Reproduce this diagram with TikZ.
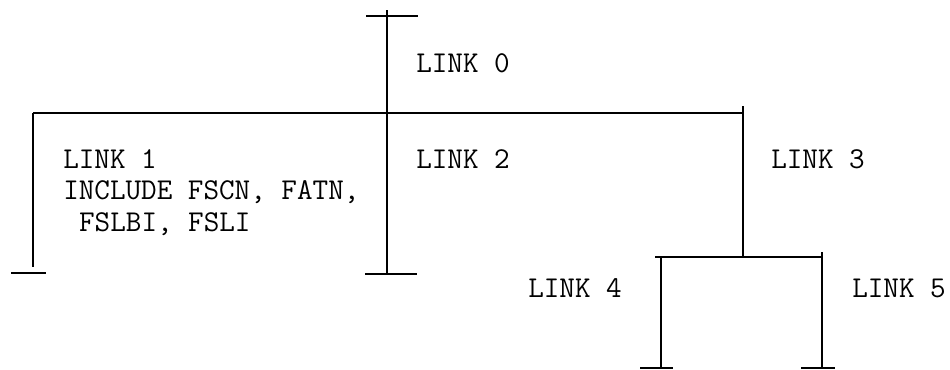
\documentclass[tikz,border=0pt]{standalone}
\tikzset{
  link/.style={line width=1.7pt},
  linklabel/.style={anchor=base west, inner sep=0pt, font=\ttfamily\fontsize{22.7}{23.6}\selectfont},
}
\begin{document}
\begin{tikzpicture}[x=0.75pt, y=-0.75pt]
    \useasboundingbox (0,0) rectangle (950,369);

    % Joints of the tree
    \coordinate (top) at (387,10);
    \coordinate (root) at (387,113);
    \coordinate (left) at (33,113);
    \coordinate (right) at (743,113);
    \coordinate (rightup) at (743,106);
    \coordinate (fork) at (743,257);
    \coordinate (forkl) at (655,257);
    \coordinate (forkr) at (822,257);
    \coordinate (leaf4top) at (661,257);
    \coordinate (leaf5top) at (822,252);

    % Ends of the links
    \coordinate (end0a) at (366,16);
    \coordinate (end0b) at (418,16);
    \coordinate (end1) at (33,267);
    \coordinate (end1a) at (11,273);
    \coordinate (end1b) at (46,273);
    \coordinate (end2) at (387,274);
    \coordinate (end2a) at (365,274);
    \coordinate (end2b) at (417,274);
    \coordinate (end4) at (661,368);
    \coordinate (end4a) at (640,368);
    \coordinate (end4b) at (673,368);
    \coordinate (end5) at (822,368);
    \coordinate (end5a) at (801,368);
    \coordinate (end5b) at (835,368);

    % Link 0 and the main bar
    \draw[link] (end0a) -- (end0b);
    \draw[link] (top) -- (root);
    \draw[link] (left) -- (right);

    % Links 1 and 2
    \draw[link] (left) -- (end1);
    \draw[link] (end1a) -- (end1b);
    \draw[link] (root) -- (end2);
    \draw[link] (end2a) -- (end2b);

    % Link 3 and its fork
    \draw[link] (rightup) -- (fork);
    \draw[link] (forkl) -- (forkr);

    % Links 4 and 5
    \draw[link] (leaf4top) -- (end4);
    \draw[link] (end4a) -- (end4b);
    \draw[link] (leaf5top) -- (end5);
    \draw[link] (end5a) -- (end5b);

    % Labels
    \node[linklabel] (lab0) at (416,72) {LINK 0};
    \node[linklabel, align=left] (lab1) at (63,231) {LINK 1\\INCLUDE FSCN, FATN,\\\hspace*{0.525em}FSLBI, FSLI};
    \node[linklabel] (lab2) at (416,168) {LINK 2};
    \node[linklabel] (lab3) at (771,168) {LINK 3};
    \node[linklabel] (lab4) at (528,297) {LINK 4};
    \node[linklabel] (lab5) at (852,297) {LINK 5};
\end{tikzpicture}
\end{document}
